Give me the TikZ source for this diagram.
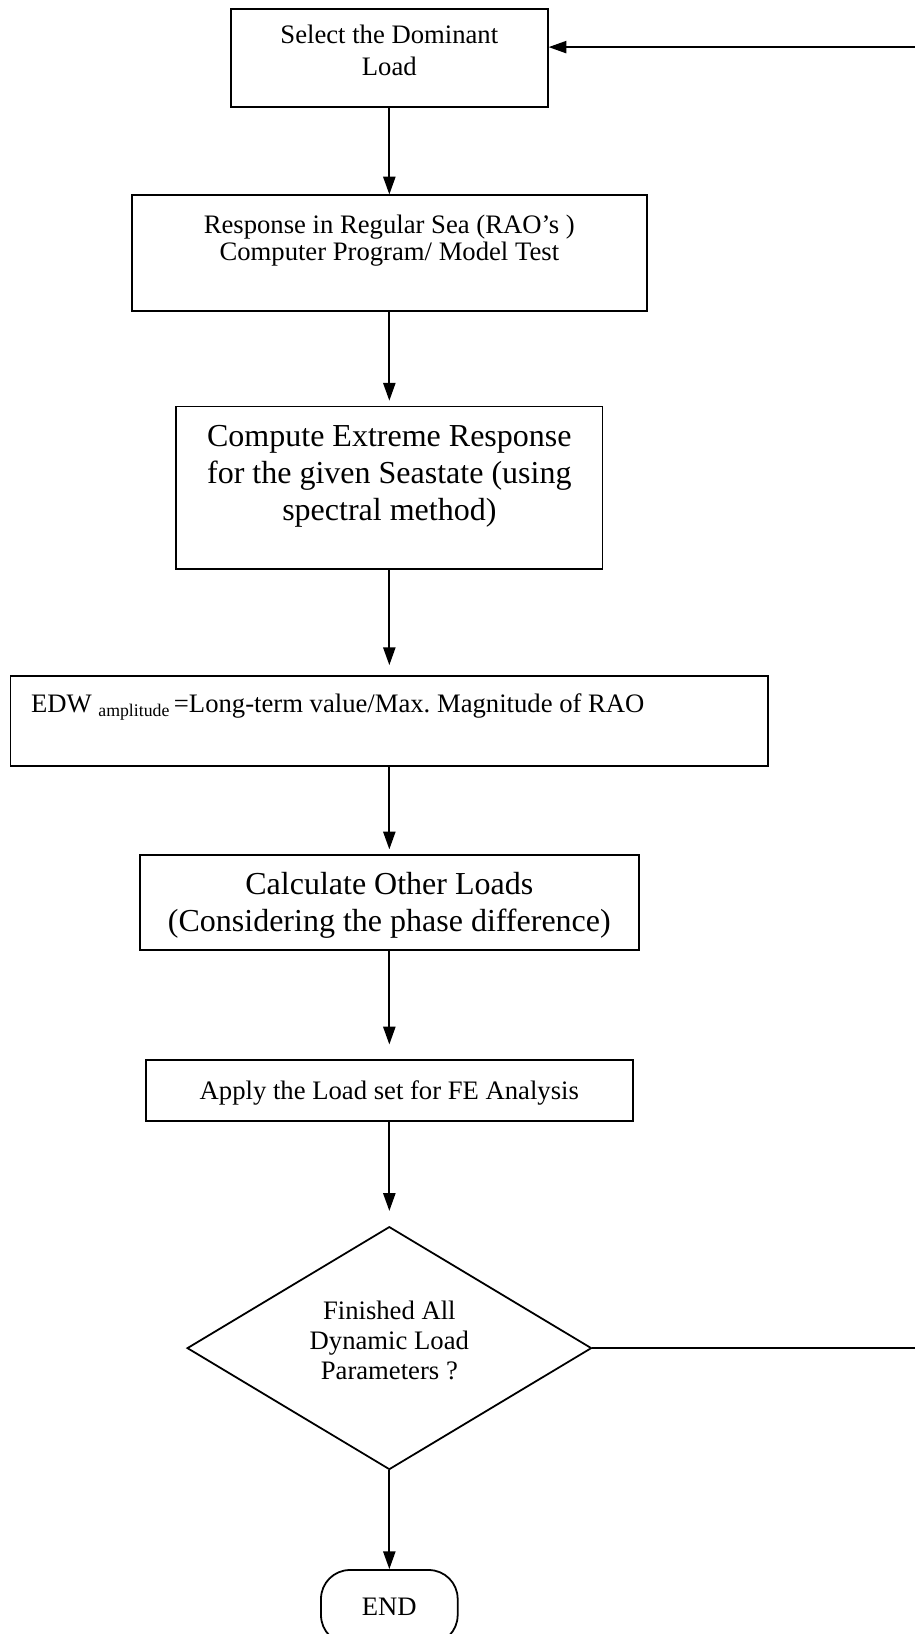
\documentclass[tikz,border=0pt,12pt]{standalone}
\usepackage{fontspec}
\setmainfont{Liberation Serif}
\usepackage{tikz}
\usetikzlibrary{
  arrows.meta,
  positioning,
  shapes.geometric
}
\newcommand{\bigtxt}{\fontsize{14.4}{16.6}\selectfont}
\tikzset{
  box/.style={
    rectangle,
    draw=black,
    line width=0.8pt,
    align=center,
    inner sep=0pt
  },
  boxtext/.style={
    anchor=north,
    align=center,
    inner sep=0pt
  },
  decision/.style={
    diamond,
    draw=black,
    line width=0.8pt,
    align=center,
    inner sep=0pt,
    minimum width=182pt,
    minimum height=109.3pt
  },
  terminal/.style={
    rectangle,
    rounded corners=13pt,
    draw=black,
    line width=0.8pt,
    minimum width=61.5pt,
    minimum height=33.3pt
  },
  arrow/.style={
    -{Triangle[length=8pt,width=5.5pt]},
    line width=0.8pt
  }
}

\begin{document}
\begin{tikzpicture}
\useasboundingbox (0,0) rectangle (411.75pt,-735.3pt);
\node[box, minimum width=142.6pt, minimum height=44pt,
  label={[boxtext, yshift=-7.2pt]north:Select the Dominant\\Load}]
  (select) at (175.2pt,-26.2pt) {};
\node[box, below=38.9pt of select, minimum width=231.7pt, minimum height=52pt,
  label={[boxtext, yshift=-9pt]north:Response in Regular Sea (RAO's )\\[-2.3pt]Computer Program/ Model Test}]
  (resp) {};
\node[box, below=42.2pt of resp, minimum width=191.8pt, minimum height=73.2pt,
  label={[boxtext, font=\bigtxt, yshift=-8.8pt]north:Compute Extreme Response\\for the given Seastate (using\\spectral method)}]
  (extreme) {};
\node[box, below=47.3pt of extreme, minimum width=340.9pt, minimum height=40.4pt,
  label={[boxtext, anchor=north west, align=left, xshift=9.4pt, yshift=-8.1pt]north west:EDW \raisebox{-2pt}{\scriptsize amplitude }=Long-term value/Max.\ Magnitude of RAO}]
  (edw) {};
\node[box, below=39.4pt of edw, minimum width=224.6pt, minimum height=42.7pt,
  label={[boxtext, anchor=center, font=\bigtxt, yshift=-1.2pt]center:Calculate Other Loads\\(Considering the phase difference)}]
  (other) {};
\node[box, below=48.8pt of other, minimum width=219pt, minimum height=27.2pt,
  label={[boxtext, anchor=center, yshift=-1pt]center:Apply the Load set for FE Analysis}]
  (apply) {};
\node[decision, below=46.9pt of apply,
  label={[boxtext, anchor=center, yshift=3.4pt]center:Finished All\\[-1pt]Dynamic Load\\[-1pt]Parameters ?}]
  (finish) {};
\node[terminal, below=44.4pt of finish] (end) {END};
\coordinate (back) at (414pt,-400pt);

\draw[arrow] (select) -- (resp);
\draw[arrow, shorten >=2.2pt] (resp) -- (extreme);
\draw[arrow, shorten >=4.5pt] (extreme) -- (edw);
\draw[arrow, shorten >=2.2pt] (edw) -- (other);
\draw[arrow, shorten >=6.7pt] (other) -- (apply);
\draw[arrow, shorten >=6.7pt] (apply) -- (finish);
\draw[arrow] (finish) -- (end);
\draw[arrow] (finish.east) -- (finish.east -| back) |- ([yshift=5pt]select.east);
\end{tikzpicture}
\end{document}
